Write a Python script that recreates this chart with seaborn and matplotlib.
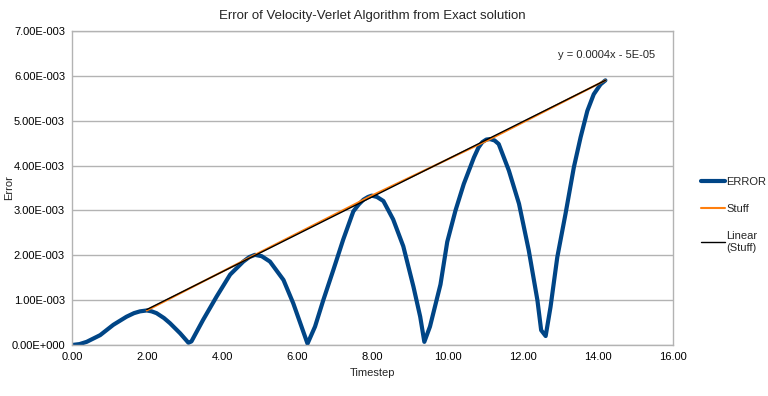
import matplotlib
matplotlib.use("Agg")
import matplotlib.pyplot as plt
import seaborn as sns
import numpy as np
import pandas as pd

# ERROR series
timestep = [0.00, 0.20, 0.39, 0.75, 1.10, 1.45, 1.65, 1.81, 1.99, 2.12, 2.25,
            2.45, 2.61, 2.88, 3.10, 3.18, 3.49, 3.85, 4.21, 4.56, 4.72, 4.87,
            5.05, 5.27, 5.63, 5.89, 6.11, 6.27, 6.47, 6.69, 6.96, 7.22, 7.49,
            7.64, 7.76, 7.88, 7.98, 8.12, 8.29, 8.55, 8.82, 9.09, 9.27, 9.38,
            9.53, 9.81, 9.99, 10.21, 10.43, 10.70, 10.82, 10.92, 11.03, 11.13,
            11.25, 11.36, 11.63, 11.90, 12.16, 12.39, 12.49, 12.61, 12.74,
            12.92, 13.14, 13.36, 13.54, 13.72, 13.89, 14.07, 14.20]
error = [0.0, 0.02e-3, 0.07e-3, 0.22e-3, 0.45e-3, 0.63e-3, 0.71e-3, 0.75e-3,
         0.77e-3, 0.75e-3, 0.71e-3, 0.60e-3, 0.485e-3, 0.26e-3, 0.05e-3,
         0.08e-3, 0.56e-3, 1.08e-3, 1.57e-3, 1.86e-3, 1.96e-3, 2.01e-3,
         1.98e-3, 1.86e-3, 1.45e-3, 0.93e-3, 0.41e-3, 0.03e-3, 0.41e-3,
         1.0e-3, 1.68e-3, 2.35e-3, 2.98e-3, 3.14e-3, 3.24e-3, 3.30e-3,
         3.33e-3, 3.30e-3, 3.21e-3, 2.80e-3, 2.20e-3, 1.30e-3, 0.63e-3,
         0.07e-3, 0.41e-3, 1.35e-3, 2.3e-3, 3.0e-3, 3.59e-3, 4.18e-3,
         4.40e-3, 4.52e-3, 4.58e-3, 4.59e-3, 4.56e-3, 4.48e-3, 3.89e-3,
         3.15e-3, 2.11e-3, 1.0e-3, 0.33e-3, 0.20e-3, 0.85e-3, 1.96e-3,
         2.93e-3, 3.96e-3, 4.63e-3, 5.22e-3, 5.59e-3, 5.81e-3, 5.90e-3]

# "Stuff" series: the peaks
stuff_x = [1.99, 4.87, 7.98, 11.13, 14.20]
stuff_y = [0.77e-3, 2.01e-3, 3.33e-3, 4.59e-3, 5.90e-3]

x_ticks = [0, 2, 4, 6, 8, 10, 12, 14, 16]
y_ticks = [0, 1e-3, 2e-3, 3e-3, 4e-3, 5e-3, 6e-3, 7e-3]
y_labels = ["0.00E+000", "1.00E-003", "2.00E-003", "3.00E-003",
            "4.00E-003", "5.00E-003", "6.00E-003", "7.00E-003"]

err_df = pd.DataFrame({"Timestep": timestep, "Error": error})
stuff_df = pd.DataFrame({"Timestep": stuff_x, "Error": stuff_y})

# linear trend of Stuff
slope, icpt = np.polyfit(stuff_x, stuff_y, 1)
trend_df = pd.DataFrame({"Timestep": [stuff_x[0], stuff_x[-1]]})
trend_df["Error"] = slope * trend_df["Timestep"] + icpt

sns.set_style("white")
plt.rcParams["font.family"] = ["Liberation Sans", "DejaVu Sans"]
grid_col = "#b3b3b3"

fig = plt.figure(figsize=(7.68, 3.96), dpi=100)
ax = fig.add_axes([72 / 768, 51 / 396, 601 / 768, 314 / 396])

sns.lineplot(data=err_df, x="Timestep", y="Error", ax=ax, color="#004586",
             linewidth=3, label="ERROR", sort=False,
             solid_joinstyle="round", solid_capstyle="round")
sns.lineplot(data=stuff_df, x="Timestep", y="Error", ax=ax, color="#ff7f0e",
             linewidth=1.5, label="Stuff")
sns.lineplot(data=trend_df, x="Timestep", y="Error", ax=ax, color="black",
             linewidth=1, label="Linear\n(Stuff)")

ax.set_xlim(0, 16)
ax.set_ylim(0, 7e-3)
ax.set_xticks(x_ticks)
ax.set_xticklabels([f"{t:.2f}" for t in x_ticks])
ax.set_yticks(y_ticks)
ax.set_yticklabels(y_labels)
ax.tick_params(axis="both", labelsize=8, length=3, color=grid_col,
               direction="out", pad=2, labelcolor="black")
ax.yaxis.grid(True, color=grid_col, linewidth=1)
ax.set_axisbelow(True)
for s in ax.spines.values():
    s.set_color(grid_col)
    s.set_linewidth(1)

ax.set_xlabel("Timestep", fontsize=8, labelpad=4)
ax.set_ylabel("Error", fontsize=8)
ax.yaxis.set_label_coords(-0.097, 0.5)
ax.set_title("Error of Velocity-Verlet Algorithm from Exact solution",
             fontsize=9.5, pad=9)

ax.text(15.53, 6.47e-3, "y = 0.0004x - 5E-05", fontsize=8, ha="right",
        va="center")

ax.legend(loc="center left", bbox_to_anchor=(1.03, 0.415), frameon=False,
          fontsize=8, handlelength=2.2, handletextpad=0.1, labelspacing=1.55)

fig.savefig("out.png", dpi=100)
